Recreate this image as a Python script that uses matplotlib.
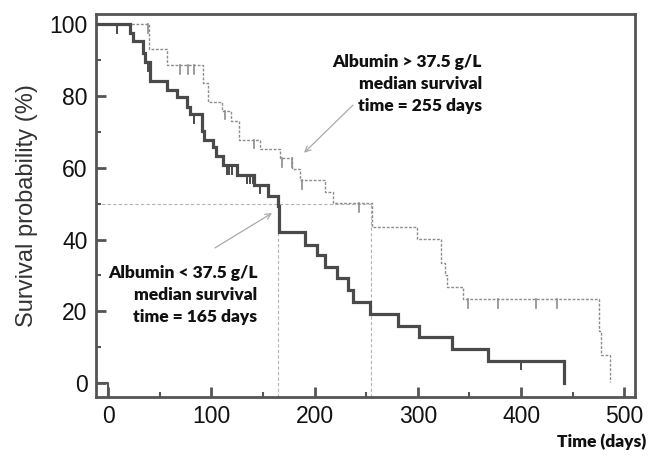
import matplotlib
matplotlib.use("Agg")
import matplotlib.pyplot as plt
import numpy as np

# ---- data ----
# Albumin < 37.5 g/L (solid): step times (days) and survival (%) after each step
low_t = [0, 21.3, 24.5, 34.2, 36, 40.7, 57.5, 66.5, 76.8, 79, 90.7, 93, 102, 105, 111,
         124.6, 141, 155.2, 164.9, 166, 190.8, 202.1, 210.1, 221.4, 232.7, 237.6,
         253.7, 281.1, 301.5, 332.8, 368.3, 442]
low_s = [100, 97.5, 95.4, 92.1, 89.4, 84.2, 81.7, 79.7, 77.1, 75.0, 70.4, 67.8, 65.9, 63.4, 60.8,
         58.1, 55.3, 52.2, 49.5, 42.2, 38.5, 35.7, 32.4, 29.2, 25.9, 22.7,
         19.2, 16.0, 12.9, 9.4, 6.2, 0]
low_cens_t = [8.4, 39, 83.6, 115, 117.5, 120, 134.3, 137.5, 140.5, 147.5, 400]

# Albumin > 37.5 g/L (dotted)
high_t = [0, 40, 56.8, 92, 97, 110, 119, 127, 147.2, 166.6, 178.5, 186, 210.1, 218.2,
          255.3, 299.6, 322.2, 326.3, 328.6, 344.1, 475.5, 477, 486.1]
high_s = [100, 93.1, 88.7, 83.8, 78.5, 75.9, 73.1, 67.9, 65.3, 62.7, 59.8, 56.6, 53.4, 50.1,
          43.6, 40.2, 33.4, 30.1, 26.9, 23.4, 14.6, 7.8, 0.4]
high_cens_t = [39, 69.7, 77.8, 83.6, 113, 141, 168.2, 177.8, 187.5, 243, 348.9, 378, 414.5, 435]

medians = {"low": 165, "high": 255}
x_ticks = [0, 100, 200, 300, 400, 500]
y_ticks = [0, 20, 40, 60, 80, 100]
x_min, x_max = -11.9, 510.6
y_min, y_max = -3.8, 102.9

plt.rcParams['font.family'] = ['Liberation Sans', 'DejaVu Sans']

fig = plt.figure(figsize=(6.62, 4.59), dpi=100)
ax = fig.add_axes([0.1446, 0.1357, 0.9597 - 0.1446, 0.9695 - 0.1357])

spine_c = "#555555"
solid_c = "#4a4a4a"
dot_c = "#8c8c8c"
ref_c = "#b4b4b4"


def surv_at(ts, ss, t):
    idx = np.searchsorted(ts, t, side="right") - 1
    return ss[max(idx, 0)]

# median reference lines
ax.plot([x_min, medians["high"]], [50, 50], color=ref_c, lw=0.8, ls=(0, (3, 2)), zorder=1)
for m in medians.values():
    ax.plot([m, m], [y_min, 50], color=ref_c, lw=0.8, ls=(0, (3, 2)), zorder=1)

# curves (start from the left edge of the axis)
lt = [x_min] + low_t
ls_ = [low_s[0]] + low_s
ht = [x_min] + high_t
hs = [high_s[0]] + high_s
ax.step(ht, hs, where="post", color=dot_c, lw=1.0, ls=(0, (2, 1.2)), zorder=2)
ax.step(lt, ls_, where="post", color=solid_c, lw=2.3, zorder=3,
        solid_joinstyle="miter")
# bottom-left corner mark
ax.plot([x_min, 0, 0], [0, 0, y_min], color=spine_c, lw=1.5, zorder=3)

# censor marks (hanging below the curve)
for c in low_cens_t:
    s = surv_at(low_t, low_s, c)
    ax.plot([c, c], [s, s - 2.4], color=solid_c, lw=1.4, zorder=3)
for c in high_cens_t:
    s = surv_at(high_t, high_s, c)
    ax.plot([c, c], [s, s - 2.4], color=dot_c, lw=1.2, zorder=2)

ax.set_xlim(x_min, x_max)
ax.set_ylim(y_min, y_max)
ax.set_xticks(x_ticks)
ax.set_yticks(y_ticks)
ax.set_xticks([50, 150, 250, 350, 450], minor=True)
ax.set_yticks([10, 30, 50, 70, 90], minor=True)
ax.tick_params(which="major", direction="in", length=7, width=2, color=spine_c,
               labelsize=16.5, pad=6, labelcolor="#111111")
ax.tick_params(which="minor", direction="in", length=3.5, width=1.5, color=spine_c)
for sp in ax.spines.values():
    sp.set_color(spine_c)
    sp.set_linewidth(2)

ax.set_ylabel("Survival probability (%)", fontsize=17, color="#333333", labelpad=8)
fig.text(0.976, 0.02, "Time (days)", ha="right", va="bottom", fontsize=12.5,
         fontweight="heavy", family=["Lato", "DejaVu Sans"], color="#111111")

ann_font = dict(fontsize=12.5, fontweight="heavy", family=["Lato", "DejaVu Sans"],
                color="#111111", ha="right", va="center", linespacing=1.45)
ax.text(362, 83.3, "Albumin > 37.5 g/L\nmedian survival\ntime = 255 days", **ann_font)
ax.text(144.5, 24.5, "Albumin < 37.5 g/L\nmedian survival\ntime = 165 days", **ann_font)

arrow_kw = dict(arrowstyle="->", color="#aaaaaa", lw=0.9, shrinkA=0, shrinkB=0)
ax.annotate("", xy=(189.8, 64.2), xytext=(237.2, 77.5), arrowprops=arrow_kw)
ax.annotate("", xy=(158.8, 47.4), xytext=(103.6, 37.7), arrowprops=arrow_kw)

fig.savefig("out.png", dpi=100)
